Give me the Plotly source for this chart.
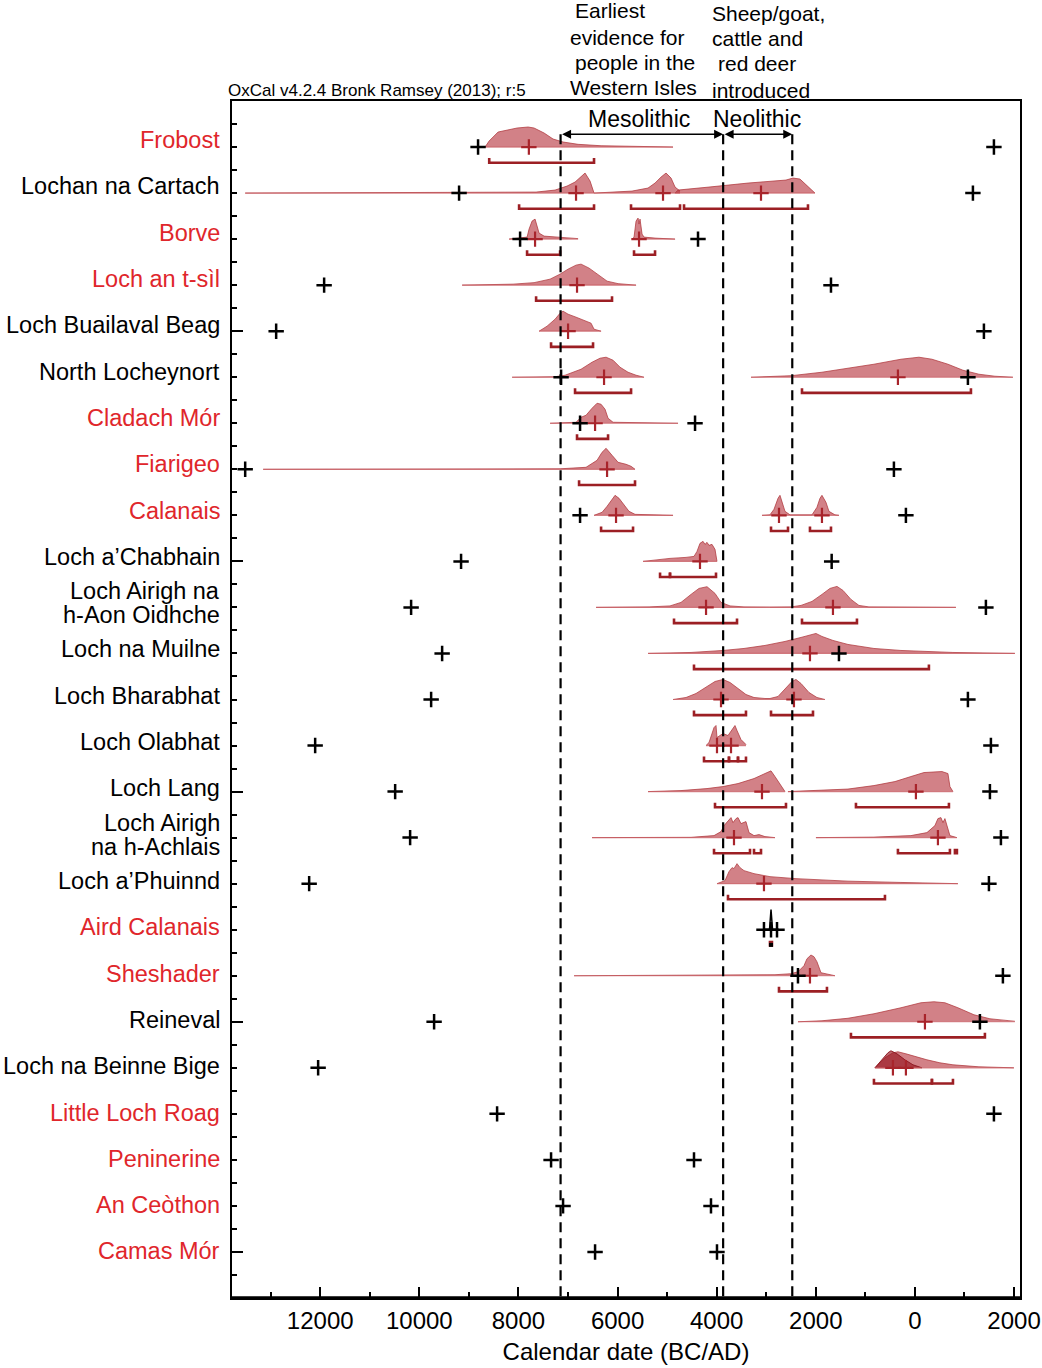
import plotly.graph_objects as go

# sites, top to bottom
sites = ["Frobost", "Lochan na Cartach", "Borve", "Loch an t-sìl", "Loch Buailaval Beag",
         "North Locheynort", "Cladach Mór", "Fiarigeo", "Calanais", "Loch a’Chabhain",
         "Loch Airigh na<br>h-Aon Oidhche", "Loch na Muilne", "Loch Bharabhat", "Loch Olabhat",
         "Loch Lang", "Loch Airigh<br>na h-Achlais", "Loch a’Phuinnd", "Aird Calanais",
         "Sheshader", "Reineval", "Loch na Beinne Bige", "Little Loch Roag", "Peninerine",
         "An Ceòthon", "Camas Mór"]
highlighted = [1, 0, 1, 1, 0, 0, 1, 1, 1, 0, 0, 0, 0, 0, 0, 0, 0, 1, 1, 0, 0, 1, 1, 1, 1]

# start / end boundaries (year, BC negative)
bounds = [[-8815, 1594], [-9198, 1170], [-7967, -4377], [-11921, -1694], [-12889, 1392],
          [-7140, 1069], [-6757, -4437], [-13514, -424], [-6757, -182], [-9158, -1680],
          [-10166, 1432], [-9540, -1533], [-9762, 1069], [-12102, 1533], [-10488, 1513],
          [-10186, 1735], [-12223, 1493], [-3046, -2904, -2783], [-2360, 1775], [-9702, 1311],
          [-12042], [-8431, 1594], [-7342, -4458], [-7100, -4115], [-6454, -3994]]

medians = [[-7790], [-6838, -5083, -3106], [-7665, -5567], [-6818], [-6999], [-6273, -343],
           [-6454], [-6212], [-6031, -2743, -1876], [-4337], [-4215, -1654], [-2118],
           [-3913, -2441], [-3994, -3711], [-3086, 20], [-3651, 464], [-3046], [], [-2118],
           [202], [-444, -182], [], [], [], []]

ranges = [[(-8590, -6475)],
          [(-7987, -6475), (-5729, -4740), (-4659, -2158)],
          [(-7826, -7160), (-5668, -5244)],
          [(-7644, -6112)],
          [(-7342, -6495)],
          [(-6858, -5728), (-2279, 1130)],
          [(-6818, -6192)],
          [(-6777, -5648)],
          [(-6333, -5688), (-2904, -2561), (-2118, -1694)],
          [(-5143, -4942), (-4942, -4014)],
          [(-4861, -3590), (-2279, -1170)],
          [(-4458, 282)],
          [(-4458, -3409), (-2904, -2057)],
          [(-4256, -3752), (-3752, -3570), (-3570, -3409)],
          [(-4034, -2602), (-1190, 686)],
          [(-4054, -3328), (-3247, -3106), (-343, 706), (807, 847)],
          [(-3772, -605)],
          [(-2925, -2885)],
          [(-2743, -1775)],
          [(-1291, 1412)],
          [(-827, 343), (343, 767)],
          [], [], [], []]

# probability distributions: (row, years, relative probability)
dists = [
    (1, [-8673, -8592, -8411, -8229, -8028, -7806, -7685, -7483, -7302, -7100, -6797, -6333, -5708, -4881],
        [0, 6, 15, 17, 19, 20, 19, 14, 8, 5, 2.7, 1.3, 0.7, 0]),
    (2, [-13514, -7967, -7644, -7261, -7019, -6858, -6717, -6656, -6555, -6475],
        [0, 0.3, 1, 3, 7, 11, 17, 20, 12, 0]),
    (2, [-6475, -6253, -5708, -5386, -5244, -5123, -5022, -4921, -4840, -4740],
        [0, 0.5, 2, 5, 10, 16, 20, 15, 6, 2]),
    (2, [-4840, -4780, -4155, -3368, -2602, -2461, -2320, -2178, -2017],
        [0, 3, 6, 10, 13, 15, 14, 7, 0]),
    (3, [-8189, -7826, -7786, -7725, -7665, -7624, -7584, -7483, -7261, -7019, -6797],
        [0, 2, 10, 18, 20, 12, 6, 3, 2, 1.5, 0.5]),
    (3, [-5708, -5668, -5627, -5587, -5567, -5547, -5506, -5466, -5244, -4840],
        [0, 2, 18, 21, 15, 20, 5, 2, 1, 0]),
    (4, [-9137, -8108, -7685, -7362, -7160, -6999, -6838, -6737, -6575, -6414, -6212, -5990, -5627],
        [0, 1, 2.5, 6, 11, 16, 20, 21, 17, 11, 4, 1.5, 0]),
    (5, [-7584, -7423, -7261, -7160, -7100, -6999, -6838, -6676, -6535, -6475, -6333],
        [0, 5, 12, 18, 20, 17, 14, 11, 8, 2, 0]),
    (6, [-8128, -7261, -7059, -6737, -6515, -6354, -6232, -6091, -5950, -5789, -5627, -5466],
        [0, 0.5, 2, 8, 15, 19, 20, 17, 10, 5, 2, 0]),
    (6, [-3308, -2501, -1876, -1351, -827, -282, 81, 343, 666, 968, 1291, 1614, 1977],
        [0, 1.5, 5, 9, 13, 18, 20, 18, 13, 7, 3, 1, 0]),
    (7, [-7362, -6838, -6737, -6636, -6515, -6414, -6333, -6253, -6192, -6091, -4780],
        [0, 1, 6, 8, 15, 20, 19, 14, 5, 1, 0]),
    (8, [-13151, -7160, -6636, -6414, -6313, -6232, -6111, -5990, -5829, -5728, -5648],
        [0, 0.5, 2, 9, 17, 21, 14, 7, 5, 3, 0]),
    (9, [-6475, -6313, -6212, -6091, -6051, -5970, -5869, -5769, -5648, -4881],
        [0, 3, 9, 17, 20, 17, 10, 4, 1, 0]),
    (9, [-3086, -2925, -2844, -2763, -2723, -2683, -2622, -2521],
        [0, 0.5, 6, 17, 20, 14, 4, 0.5]),
    (9, [-2521, -2077, -1977, -1916, -1876, -1795, -1735, -1614, -1533],
        [0.5, 0.5, 8, 17, 20, 13, 4, 0.5, 0]),
    (10, [-5486, -5244, -4942, -4619, -4458, -4397, -4337, -4276, -4236, -4195, -4155, -4095, -4034, -3994],
        [0, 1.5, 3, 4, 5, 10, 18, 20, 17, 19, 16, 17, 12, 0]),
    (11, [-6434, -5365, -4942, -4720, -4518, -4357, -4195, -4034, -3913, -3731, -3449, -2925],
        [0, 0.5, 1.5, 5, 13, 19, 20.7, 14, 5, 1.5, 0.5, 0.3]),
    (11, [-2925, -2501, -2299, -2077, -1876, -1714, -1573, -1452, -1291, -1130, -928, 827],
        [0.3, 0.5, 2, 6, 13, 19, 21, 17, 8, 2, 0.5, 0]),
    (12, [-5385, -4518, -3873, -3449, -3026, -2622, -2299, -2077, -1997, -1876, -1654, -1351, -827, -282, 767, 2017],
        [0, 1, 3, 5, 8, 12, 16, 19, 20, 17, 13, 9, 5, 3, 1, 0]),
    (13, [-4881, -4619, -4417, -4195, -4034, -3873, -3731, -3570, -3409, -3247, -3026],
        [0, 2, 6, 13, 18, 20, 17, 11, 5, 2, 1]),
    (13, [-3026, -2925, -2763, -2622, -2481, -2400, -2299, -2138, -1977, -1815],
        [1, 1, 3, 10, 18, 20, 16, 7, 2, 0]),
    (14, [-4216, -4155, -4054, -4014, -3994, -3933, -3873, -3772, -3711, -3651, -3631, -3590, -3510, -3409],
        [0, 3, 18, 20, 8, 10, 12, 10, 14, 19, 20, 15, 6, 1]),
    (15, [-5385, -4720, -4195, -3873, -3570, -3247, -3026, -2904, -2824, -2723, -2622],
        [0, 1, 3, 5, 8, 13, 18, 20.7, 15, 7, 0]),
    (15, [-2562, -1876, -1351, -827, -403, -81, 182, 545, 666, 706, 767],
        [0, 1, 2.5, 6, 10, 15, 19, 20, 18, 5, 0]),
    (16, [-6515, -4518, -4054, -3913, -3852, -3752, -3711, -3671, -3610, -3570, -3510, -3409, -3348, -3247, -3146, -3026, -2824],
        [0, 0.3, 2, 6, 12, 18, 20, 15, 19, 20, 14, 16, 5, 2, 3, 1, 0]),
    (16, [-1997, -827, -81, 242, 403, 464, 525, 565, 605, 645, 706, 847],
        [0, 0.5, 2, 5, 12, 19, 20, 15, 19, 12, 2, 0]),
    (17, [-3994, -3832, -3752, -3691, -3651, -3590, -3530, -3449, -3247, -2925, -2400, -1876, -1351, -282, 867],
        [0, 3, 12, 16, 15, 20, 16, 13, 10, 7, 5, 3.5, 2.5, 1.2, 0]),
    (19, [-6878, -3469, -2824, -2501, -2360, -2239, -2178, -2098, -2037, -1977, -1896, -1614],
        [0, 0.3, 1, 2, 4, 10, 17, 20.7, 19, 14, 3, 0]),
    (20, [-2360, -1876, -1351, -827, -282, 121, 383, 605, 867, 1190, 1513, 2017],
        [0, 1, 3.5, 8, 14, 19, 20, 19, 14, 7, 3, 0.5]),
    (21, [-807, -605, -444, -343, -182, 20, 242, 504, 767, 1291, 1997],
        [0, 10, 15, 16, 14, 11, 8, 5, 3, 1, 0]),
]
dark_dists = [
    (21, [-807, -666, -545, -484, -363, -202, -40, 141],
         [0, 8, 15, 17, 14, 8, 3, 0]),
]
aird_years = [-2935, -2904, -2873]
aird_prob = [0, 20, 0]

phase_lines = [-7150, -3870, -2475]

# header text lines: (text, left edge px, centre y px)
header_left = [("Earliest", 573, 11), ("evidence for", 568, 37),
               ("people in the", 573, 62), ("Western Isles", 568, 88)]
header_right = [("Sheep/goat,", 710, 13), ("cattle and", 710, 38),
                ("red deer", 716, 64), ("introduced", 710, 90)]

PROB_UNIT = 1 / 46.0
FONT = "Liberation Sans, Arial, sans-serif"
RED_TXT = "#e0262b"
FILL = "rgba(180,45,55,0.6)"
EDGE = "rgba(175,55,60,0.75)"
BRACKET = "#9c1f24"
L, R, T, B = 232, 22, 101, 70
W, H = 1042, 1368


def px_x(px):
    return (px - L) / (W - L - R)


def px_y(py):
    return (H - B - py) / (H - T - B)


fig = go.Figure()


def add_dist(row, years, probs, fill, edge):
    top = [row - p * PROB_UNIT for p in probs]
    fig.add_trace(go.Scatter(x=years + years[::-1], y=top + [row] * len(years),
                             fill="toself", fillcolor=fill, mode="lines",
                             line=dict(width=0), hoverinfo="skip", showlegend=False))
    fig.add_trace(go.Scatter(x=years, y=top, mode="lines", line=dict(color=edge, width=1),
                             hoverinfo="skip", showlegend=False))
    fig.add_trace(go.Scatter(x=[years[0], years[-1]], y=[row, row], mode="lines",
                             line=dict(color="rgba(200,90,95,0.7)", width=1.2),
                             hoverinfo="skip", showlegend=False))


for row, yrs, pr in dists:
    add_dist(row, yrs, pr, FILL, EDGE)
for row, yrs, pr in dark_dists:
    add_dist(row, yrs, pr, "rgba(150,20,30,0.65)", "rgba(140,20,30,0.9)")

# Aird Calanais spike
fig.add_trace(go.Scatter(x=aird_years, y=[18 - p * PROB_UNIT for p in aird_prob], mode="lines",
                         line=dict(color="black", width=1.5), showlegend=False))

# range brackets
bx, by = [], []
for i, segs in enumerate(ranges):
    row = i + 1
    yb = row + 0.34
    for a, b in segs:
        bx += [a, a, b, b, None]
        by += [yb - 0.1, yb, yb, yb - 0.1, None]
fig.add_trace(go.Scatter(x=bx, y=by, mode="lines", line=dict(color=BRACKET, width=2.6),
                         showlegend=False))
fig.add_trace(go.Scatter(x=[-2904], y=[18.33], mode="markers",
                         marker=dict(symbol="square", size=4, color="black"), showlegend=False))

# median markers
mx, my = [], []
for i, vals in enumerate(medians):
    for v in vals:
        mx.append(v)
        my.append(i + 1)
fig.add_trace(go.Scatter(x=mx, y=my, mode="markers",
                         marker=dict(symbol="cross-thin", size=11, line=dict(color="#a8242b", width=2.2)),
                         showlegend=False))

# boundary markers
kx, ky = [], []
for i, vals in enumerate(bounds):
    for v in vals:
        kx.append(v)
        ky.append(i + 1)
fig.add_trace(go.Scatter(x=kx, y=ky, mode="markers",
                         marker=dict(symbol="cross-thin", size=11, line=dict(color="black", width=2.5)),
                         showlegend=False))

# dashed phase lines
for xv in phase_lines:
    fig.add_shape(type="line", x0=xv, x1=xv, y0=0.72, y1=26, xref="x", yref="y",
                  line=dict(color="black", width=2.2, dash="10px,6px"))
fig.add_shape(type="line", xref="paper", yref="paper", x0=0, x1=1, y0=0, y1=0,
              line=dict(color="black", width=3.5))

# arrows
for a, b in [(phase_lines[0], phase_lines[1]), (phase_lines[1], phase_lines[2])]:
    fig.add_annotation(x=b, y=0.72, ax=a, ay=0.72, xref="x", yref="y", axref="x", ayref="y",
                       text="", showarrow=True, arrowhead=2, arrowside="end+start",
                       arrowsize=1.2, arrowwidth=1.5, arrowcolor="black")
fig.add_annotation(x=-5567, y=0.4, xref="x", yref="y", text="Mesolithic", showarrow=False,
                   font=dict(size=23, color="black", family=FONT))
fig.add_annotation(x=-3187, y=0.4, xref="x", yref="y", text="Neolithic", showarrow=False,
                   font=dict(size=23, color="black", family=FONT))

# site labels (two-line names placed line by line, tighter than plotly's line height)
for i, name in enumerate(sites):
    col = RED_TXT if highlighted[i] else "black"
    lines = name.split("<br>")
    shift = 7 - 0.27 * i
    for j, ln in enumerate(lines):
        off = (len(lines) - 1) / 2 * 24 - j * 24
        fig.add_annotation(x=px_x(222), y=i + 1, xref="paper", yref="y", text=ln, showarrow=False,
                           xanchor="right", align="right", yshift=shift + off,
                           font=dict(size=23.5, color=col, family=FONT))

# text above plot
for txt, xl, yc in header_left + header_right:
    fig.add_annotation(x=px_x(xl), y=px_y(yc), xref="paper", yref="paper", xanchor="left",
                       yanchor="middle", text=txt, showarrow=False,
                       font=dict(size=21, color="black", family=FONT))
fig.add_annotation(x=px_x(226), y=px_y(91), xref="paper", yref="paper", yanchor="middle",
                   xanchor="left", text="OxCal v4.2.4 Bronk Ramsey (2013); r:5", showarrow=False,
                   font=dict(size=17, color="black", family=FONT))

major = [-12000, -10000, -8000, -6000, -4000, -2000, 0, 2000]
minor = [-13000, -11000, -9000, -7000, -5000, -3000, -1000, 1000]
row_major = [5, 10, 15, 20, 25]
row_minor = [k * 0.5 for k in range(1, 52) if k * 0.5 not in row_major]

fig.update_layout(
    width=W, height=H,
    margin=dict(l=L, r=R, t=T, b=B, autoexpand=False),
    plot_bgcolor="white", paper_bgcolor="white",
    font=dict(family=FONT, size=24, color="black"),
    xaxis=dict(range=[-13780, 2120], tickmode="array", tickvals=major, automargin=False,
               ticktext=[str(abs(v)) for v in major], ticks="inside", ticklen=11, tickwidth=2,
               tickcolor="black", showline=True, mirror=True, linecolor="black", linewidth=2,
               showgrid=False, zeroline=False,
               minor=dict(tickvals=minor, ticks="inside", ticklen=6, tickwidth=1.5, tickcolor="black"),
               title=dict(text="Calendar date (BC/AD)", font=dict(size=24), standoff=10),
               tickfont=dict(size=24)),
    yaxis=dict(range=[26, 0], tickmode="array", tickvals=row_major,
               showticklabels=False, ticks="inside", ticklen=11, tickwidth=2, tickcolor="black",
               minor=dict(tickvals=row_minor, ticks="inside", ticklen=5, tickwidth=1.5, tickcolor="black"),
               showline=True, mirror=True, linecolor="black", linewidth=2, automargin=False,
               showgrid=False, zeroline=False),
)

fig.write_html("out.html", config={"displayModeBar": False},
               post_script="document.body.style.margin='0px';document.body.style.overflow='hidden';")
